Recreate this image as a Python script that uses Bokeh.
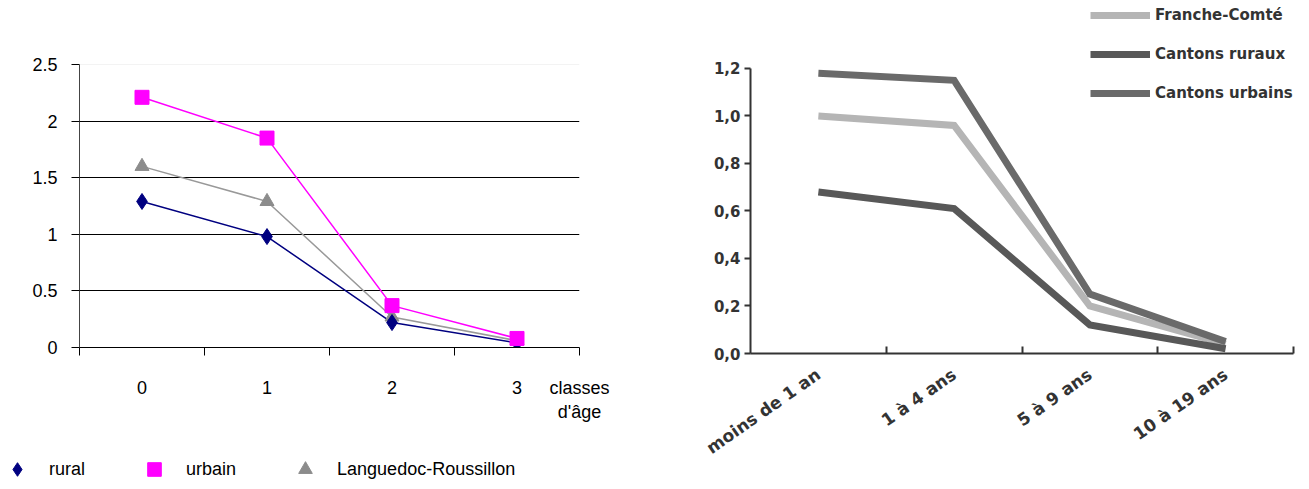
import math
from bokeh.plotting import figure
from bokeh.layouts import row, column
from bokeh.models import (Range1d, FixedTicker, CustomJSTickFormatter, Legend,
                          LegendItem, Span)
from bokeh.embed import file_html
from bokeh.resources import INLINE

# ---------------- data ----------------
left_classes = [0, 1, 2, 3]
rural = [1.29, 0.98, 0.22, 0.04]
urbain = [2.21, 1.85, 0.37, 0.08]
languedoc = [1.60, 1.29, 0.27, 0.06]
left_yticks = [0, 0.5, 1, 1.5, 2, 2.5]
left_xtitle = "classes\nd'âge"

right_categories = ["moins de 1 an", "1 à 4 ans", "5 à 9 ans", "10 à 19 ans"]
right_x = [0, 1, 2, 3]
franche_comte = [1.00, 0.96, 0.20, 0.04]
cantons_ruraux = [0.68, 0.61, 0.12, 0.02]
cantons_urbains = [1.18, 1.15, 0.25, 0.05]
right_yticks = [0, 0.2, 0.4, 0.6, 0.8, 1.0, 1.2]

# ---------------- left chart ----------------
LFONT = "Liberation Sans"
p1 = figure(width=650, height=430, output_backend="svg", toolbar_location=None,
            x_range=Range1d(-0.5, 3.5), y_range=Range1d(0, 2.5),
            min_border_left=79, min_border_right=71, min_border_top=64,
            min_border_bottom=83)
p1.frame_align = False
p1.outline_line_color = None
p1.xgrid.visible = False
p1.ygrid.ticker = FixedTicker(ticks=[0.5, 1, 1.5, 2])
p1.ygrid.grid_line_color = "black"
p1.ygrid.grid_line_width = 1
p1.add_layout(Span(location=2.5, dimension="width", line_color="#e8e8e8", line_width=1))

xa = p1.xaxis[0]
xa.ticker = FixedTicker(ticks=left_classes + [3.5], minor_ticks=[-0.5, 0.5, 1.5, 2.5, 3.5])
xa.formatter = CustomJSTickFormatter(args=dict(title=left_xtitle),
                                     code="return tick > 3.2 ? title : tick.toString()")
xa.major_tick_line_color = None
xa.major_tick_out = 0
xa.major_tick_in = 0
xa.minor_tick_line_color = "black"
xa.minor_tick_out = 8
xa.minor_tick_in = 0
xa.axis_line_color = "black"
xa.major_label_standoff = 22
xa.major_label_text_font = LFONT
xa.major_label_text_font_size = "18px"
xa.major_label_text_color = "black"

ya = p1.yaxis[0]
ya.ticker = FixedTicker(ticks=left_yticks, minor_ticks=[])
ya.formatter = CustomJSTickFormatter(code="return tick.toString()")
ya.major_tick_out = 8
ya.major_tick_in = 0
ya.major_tick_line_color = "black"
ya.axis_line_color = "#444444"
ya.major_label_standoff = 14
ya.major_label_text_font = LFONT
ya.major_label_text_font_size = "18px"
ya.major_label_text_color = "black"

def draw_left(p):
    p.line(left_classes, languedoc, line_color="#999999", line_width=1.5)
    p.line(left_classes, rural, line_color="#000080", line_width=1.5)
    p.line(left_classes, urbain, line_color="#ff00ff", line_width=1.5)
    s_lr = p.scatter(left_classes, languedoc, marker="triangle", size=14,
                     fill_color="#8c8c8c", line_color="#8c8c8c")
    s_rural = p.scatter(left_classes, rural, marker="diamond", size=16,
                        fill_color="#000080", line_color="#000080")
    s_urb = p.scatter(left_classes, urbain, marker="square", size=14,
                      fill_color="#ff00ff", line_color="#ff00ff")
    return s_rural, s_urb, s_lr

draw_left(p1)

# legend strip under the left chart (same series, view window kept off the data)
p3 = figure(width=650, height=59, output_backend="svg", toolbar_location=None,
            x_range=Range1d(100, 101), y_range=Range1d(100, 101),
            x_axis_type=None, y_axis_type=None, min_border=0)
p3.frame_align = False
p3.outline_line_color = None
p3.grid.visible = False
s_rural, s_urb, s_lr = draw_left(p3)
lg1 = Legend(items=[LegendItem(label="rural", renderers=[s_rural]),
                    LegendItem(label="urbain", renderers=[s_urb]),
                    LegendItem(label="Languedoc-Roussillon", renderers=[s_lr])],
             orientation="horizontal", location=(0, 3),
             glyph_width=34, glyph_height=34, padding=0, margin=0, spacing=52,
             label_standoff=15, border_line_color=None, background_fill_alpha=0,
             label_text_font=LFONT, label_text_font_size="18px",
             label_text_color="black")
p3.add_layout(lg1)

# ---------------- right chart ----------------
RFONT = "DejaVu Sans"
p2 = figure(width=659, height=489, output_backend="svg", toolbar_location=None,
            x_range=Range1d(-0.5, 3.5), y_range=Range1d(0, 1.486),
            min_border_left=100, min_border_right=16, min_border_top=0,
            min_border_bottom=136)
p2.frame_align = False
p2.outline_line_color = None
p2.xgrid.visible = False
p2.ygrid.visible = False

xb = p2.xaxis[0]
xb.ticker = FixedTicker(ticks=right_x, minor_ticks=[0.5, 1.5, 2.5, 3.5])
xb.formatter = CustomJSTickFormatter(args=dict(labels=right_categories),
                                     code="return labels[Math.round(tick)]")
xb.major_tick_line_color = None
xb.major_tick_out = 0
xb.major_tick_in = 0
xb.minor_tick_line_color = "#333333"
xb.minor_tick_line_width = 2
xb.minor_tick_in = 7
xb.minor_tick_out = 0
xb.axis_line_color = "#333333"
xb.axis_line_width = 2
xb.major_label_orientation = math.radians(35)
xb.major_label_standoff = 19
xb.major_label_text_font = RFONT
xb.major_label_text_font_style = "bold"
xb.major_label_text_font_size = "17px"
xb.major_label_text_color = "#333333"

yb = p2.yaxis[0]
yb.bounds = (0, 1.2)
yb.ticker = FixedTicker(ticks=right_yticks, minor_ticks=[])
yb.formatter = CustomJSTickFormatter(code="return tick.toFixed(1).replace('.', ',')")
yb.major_tick_out = 6
yb.major_tick_in = 0
yb.major_tick_line_color = "#333333"
yb.major_tick_line_width = 2
yb.axis_line_color = "#333333"
yb.axis_line_width = 2
yb.major_label_standoff = 4
yb.major_label_text_font = RFONT
yb.major_label_text_font_style = "bold"
yb.major_label_text_font_size = "15px"
yb.major_label_text_color = "#333333"

l_fc = p2.line(right_x, franche_comte, line_color="#b5b5b5", line_width=7, line_join="miter")
l_ru = p2.line(right_x, cantons_ruraux, line_color="#585858", line_width=7, line_join="miter")
l_ur = p2.line(right_x, cantons_urbains, line_color="#6a6a6a", line_width=7, line_join="miter")

lg2 = Legend(items=[LegendItem(label="Franche-Comté", renderers=[l_fc]),
                    LegendItem(label="Cantons ruraux", renderers=[l_ru]),
                    LegendItem(label="Cantons urbains", renderers=[l_ur])],
             location=(340, 246), spacing=11, glyph_width=60, glyph_height=28,
             padding=0, margin=0, label_standoff=5, border_line_color=None,
             background_fill_alpha=0, label_text_font=RFONT,
             label_text_font_style="bold", label_text_font_size="15px",
             label_text_color="#333333")
p2.add_layout(lg2)

layout = row(column(p1, p3, spacing=0), p2, spacing=0)
open("out.html", "w").write(file_html(layout, INLINE))
